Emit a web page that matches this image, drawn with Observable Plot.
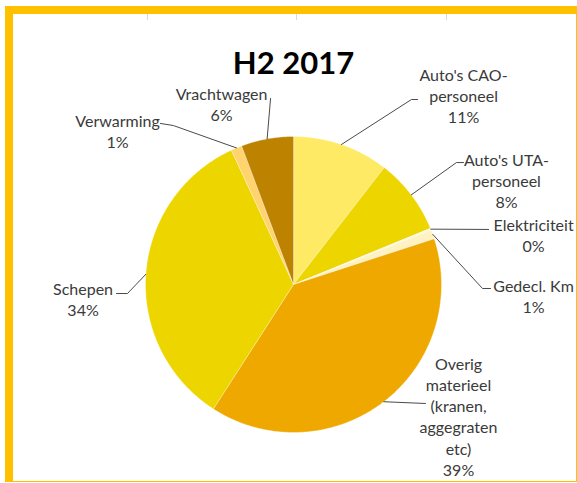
<!DOCTYPE html>
<html><head><meta charset="utf-8">
<script src="https://cdn.jsdelivr.net/npm/d3@7"></script>
<script src="https://cdn.jsdelivr.net/npm/@observablehq/plot@0.6"></script>
<style>
html,body{margin:0;padding:0;background:#fff;}
#wrap{position:relative;width:577px;height:483px;overflow:hidden;background:#fff;}
#frame{position:absolute;left:5px;top:6px;width:572px;height:476px;box-sizing:border-box;border-left:8px solid #FFC000;border-top:8px solid #FFC000;border-right:1px solid #FFC000;border-bottom:1px solid #FFC000;}
.tick{position:absolute;width:1px;height:6px;background:#d9d9d9;}
#chart{position:absolute;left:0;top:0;}
#title{position:absolute;left:5px;width:577px;top:43px;text-align:center;font:bold 31px Lato,"Open Sans",sans-serif;color:#000;line-height:38px;}
</style></head><body>
<div id="wrap">
<div id="frame"></div>
<div class="tick" style="left:147px;top:14px"></div>
<div class="tick" style="left:296px;top:14px"></div>
<div class="tick" style="left:446px;top:14px"></div>
<div id="chart"></div>
<div id="title">H2 2017</div>
</div>
<script>
// ---- data ----
const categories = ["Auto's CAO-personeel", "Auto's UTA-personeel", "Elektriciteit", "Gedecl. Km", "Overig materieel (kranen, aggegraten etc)", "Schepen", "Verwarming", "Vrachtwagen"];
const labelTexts = ["Auto's CAO-\npersoneel", "Auto's UTA-\npersoneel", "Elektriciteit", "Gedecl. Km", "Overig\nmaterieel\n(kranen,\naggegraten\netc)", "Schepen", "Verwarming", "Vrachtwagen"];
const values = [10.5, 8.3, 0.2, 1.0, 39.1, 34.0, 1.2, 5.7];
const percentLabels = ["11%", "8%", "0%", "1%", "39%", "34%", "1%", "6%"];
const colors = ["#FFEA66", "#EDD500", "#FFF8DA", "#FFF2C2", "#EFA800", "#EDD500", "#FFD46E", "#BC8200"];

// ---- layout (in pie-radius units, relative to pie centre) ----
const labelPos = [[1.149,-1.277],[1.439,-0.703],[1.622,-0.338],[1.622,0.074],[1.115,0.889],[-1.422,0.095],[-1.189,-1.041],[-0.486,-1.223]];
const leaderPts = [
  [[0.797,-1.250],[0.838,-1.250]],
  [[1.101,-0.824],[1.149,-0.824]],
  [[1.318,-0.372]],
  [[1.277,0.027],[1.331,0.027]],
  [[0.892,0.804]],
  [[-1.122,0.061],[-1.196,0.061]],
  [[-0.811,-1.074],[-0.899,-1.088]],
  [[-0.155,-1.257]]
];

const total = d3.sum(values);
let cum = 0;
const slices = categories.map((c, i) => {
  const a0 = cum / total * 2 * Math.PI;
  cum += values[i];
  const a1 = cum / total * 2 * Math.PI;
  return {c, i, a0, a1, mid: (a0 + a1) / 2};
});

const arcPts = [];
for (const s of slices) {
  arcPts.push({c: s.c, x: 0, y: 0});
  const n = Math.max(2, Math.ceil((s.a1 - s.a0) / 0.01));
  for (let k = 0; k <= n; k++) {
    const a = s.a0 + (s.a1 - s.a0) * k / n;
    arcPts.push({c: s.c, x: Math.sin(a), y: -Math.cos(a)});
  }
}

const leaders = [];
slices.forEach((s, i) => {
  leaders.push({c: s.c, x: Math.sin(s.mid), y: -Math.cos(s.mid)});
  for (const p of leaderPts[i]) leaders.push({c: s.c, x: p[0], y: p[1]});
});

const labels = slices.map((s, i) => ({c: s.c, x: labelPos[i][0], y: labelPos[i][1], t: labelTexts[i] + "\n" + percentLabels[i]}));

const plot = Plot.plot({
  width: 577, height: 483,
  margin: 0,
  style: {background: "transparent", fontFamily: "Lato, 'Open Sans', sans-serif", overflow: "visible"},
  x: {domain: [-1, 1], range: [145, 441], axis: null},
  y: {domain: [-1, 1], range: [136, 432], axis: null},
  color: {domain: categories, range: colors},
  marks: [
    Plot.line(arcPts, {x: "x", y: "y", z: "c", fill: "c", stroke: "#ffffff", strokeWidth: 0.35, curve: "linear-closed"}),
    Plot.line(leaders, {x: "x", y: "y", z: "c", stroke: "#4a4a4a", strokeWidth: 1}),
    Plot.text(labels, {x: "x", y: "y", text: "t", fill: "#3a3a3a", fontSize: 16, lineHeight: 1.32, textAnchor: "middle", lineAnchor: "middle"})
  ]
});
document.getElementById("chart").appendChild(plot);
</script>
</body></html>
